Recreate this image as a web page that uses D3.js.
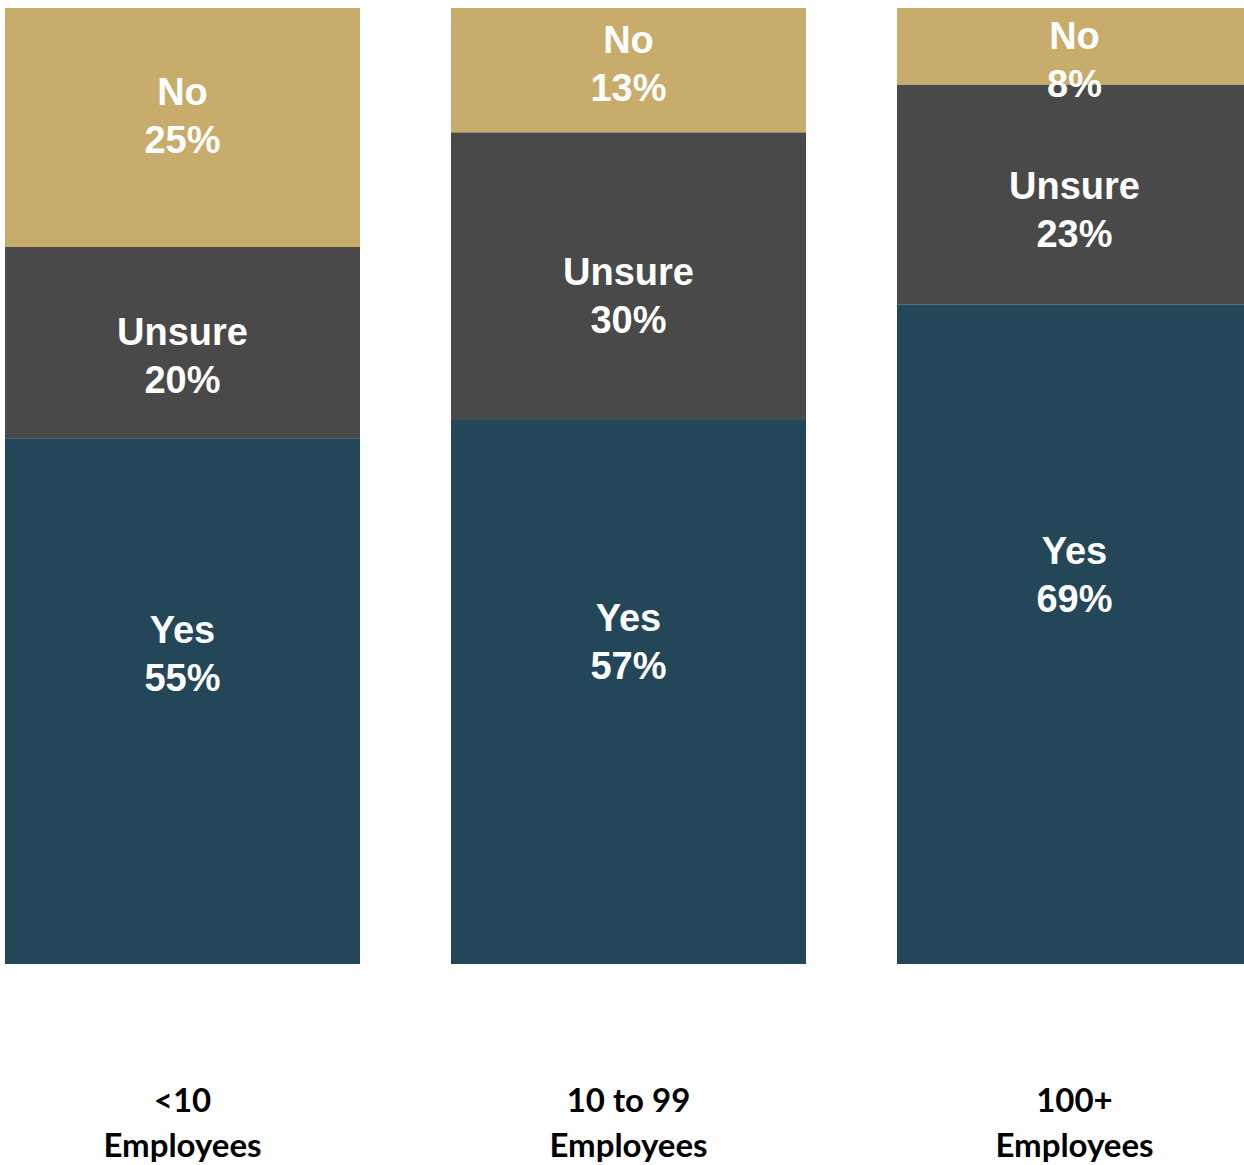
<!DOCTYPE html>
<html>
<head>
<meta charset="utf-8">
<script src="https://cdn.jsdelivr.net/npm/d3@7"></script>
<style>
  html, body { margin: 0; padding: 0; background: #ffffff; }
  svg { display: block; }
</style>
</head>
<body>
<svg id="chart" width="1244" height="1165"></svg>
<script>
// Company size groups and the share of answers in each
const categories = ["<10 Employees", "10 to 99 Employees", "100+ Employees"];
const categoryLines = [["<10", "Employees"], ["10 to 99", "Employees"], ["100+", "Employees"]];
const seriesNames = ["Yes", "Unsure", "No"];
const yesValues = [55, 57, 69];
const unsureValues = [20, 30, 23];
const noValues = [25, 13, 8];

const colors = { Yes: "#234758", Unsure: "#494949", No: "#C8AC6B" };
// where the label block sits inside its segment (fraction of segment height)
const labelAnchor = { Yes: 0.41, Unsure: 0.57, No: 0.45 };

const width = 1244, height = 1165;
const svg = d3.select("#chart");

const rows = categories.map((c, i) => ({
  category: c,
  Yes: yesValues[i],
  Unsure: unsureValues[i],
  No: noValues[i]
}));

const stacked = d3.stack().keys(seriesNames)(rows);

const x = d3.scaleBand()
  .domain(categories)
  .range([5, 1252])
  .paddingInner(0.204)
  .paddingOuter(0);

const y = d3.scaleLinear().domain([0, 100]).range([964, 8]);

const layers = svg.append("g").selectAll("g")
  .data(stacked)
  .join("g")
  .attr("fill", d => colors[d.key]);

layers.selectAll("rect")
  .data(d => d.map(p => ({ key: d.key, p })))
  .join("rect")
  .attr("x", d => x(d.p.data.category))
  .attr("y", d => y(d.p[1]))
  .attr("width", x.bandwidth())
  .attr("height", d => y(d.p[0]) - y(d.p[1]));

// Two-line segment labels: series name and percentage
const labelFont = "'Liberation Sans', Arial, sans-serif";
const lineGap = 24;
layers.selectAll("text")
  .data(d => d.map(p => ({ key: d.key, p })))
  .join("text")
  .attr("text-anchor", "middle")
  .attr("fill", "#ffffff")
  .style("font-family", labelFont)
  .style("font-weight", "bold")
  .style("font-size", "38px")
  .each(function (d) {
    const top = y(d.p[1]);
    const h = y(d.p[0]) - top;
    const cx = x(d.p.data.category) + x.bandwidth() / 2;
    // keep the block inside the chart even when the segment is short
    const cy = Math.max(top + h * labelAnchor[d.key], top + 52);
    const t = d3.select(this);
    t.append("tspan").attr("x", cx).attr("y", cy - lineGap + 13).text(d.key);
    t.append("tspan").attr("x", cx).attr("y", cy + lineGap + 13).text((d.p[1] - d.p[0]) + "%");
  });

// Category labels under each bar
const catFont = "Lato, 'Open Sans', sans-serif";
svg.append("g").selectAll("text")
  .data(categories)
  .join("text")
  .attr("text-anchor", "middle")
  .attr("fill", "#000000")
  .style("font-family", catFont)
  .style("font-weight", "bold")
  .style("font-size", "33px")
  .each(function (c, i) {
    const cx = x(c) + x.bandwidth() / 2;
    const t = d3.select(this);
    categoryLines[i].forEach((line, j) => {
      t.append("tspan").attr("x", cx).attr("y", 1112 + j * 45).text(line);
    });
  });
</script>
</body>
</html>
